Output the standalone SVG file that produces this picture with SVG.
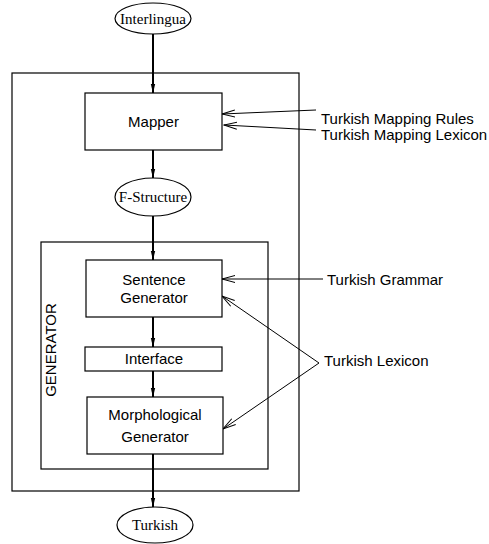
<svg xmlns="http://www.w3.org/2000/svg" width="489" height="544" viewBox="0 0 489 544">
<style>
.box{fill:#fff;stroke:#000;stroke-width:1.2}
.frame{fill:none;stroke:#000;stroke-width:1.2}
.sans{font-family:"Liberation Sans",Arial,sans-serif;font-size:15px;fill:#000}
.serif{font-family:"Liberation Serif","Times New Roman",serif;font-size:15px;fill:#000}
.main{stroke:#000;stroke-width:2;fill:none;marker-end:url(#fill)}
.side{stroke:#000;stroke-width:1;fill:none;marker-end:url(#open)}
</style>
<defs>
<marker id="fill" markerWidth="10" markerHeight="6" refX="9" refY="3" orient="auto" markerUnits="userSpaceOnUse">
<path d="M0,0.8 L9,3 L0,5.2 Z" fill="#000"/>
</marker>
<marker id="open" markerWidth="14" markerHeight="10" refX="13" refY="5" orient="auto" markerUnits="userSpaceOnUse">
<path d="M0,1.5 L13,5 L0,8.5" fill="none" stroke="#000" stroke-width="1"/>
</marker>
</defs>
<g id="frames">
<rect class="frame" x="12" y="73" width="287" height="418"/>
<rect class="frame" x="41" y="242" width="227" height="227"/>
<text class="sans" transform="translate(55.5,350) rotate(-90)" text-anchor="middle">GENERATOR</text>
</g>
<g id="connectors">
<line class="main" x1="153" y1="34" x2="153" y2="93"/>
<line class="main" x1="153" y1="150" x2="153" y2="178"/>
<line class="main" x1="153" y1="216" x2="153" y2="260"/>
<line class="main" x1="153" y1="317" x2="153" y2="347"/>
<line class="main" x1="153" y1="371" x2="153" y2="397"/>
<line class="main" x1="153" y1="454" x2="153" y2="507"/>
<line class="side" x1="316" y1="110" x2="222" y2="114"/>
<line class="side" x1="316" y1="130" x2="224" y2="125"/>
<line class="side" x1="323" y1="279" x2="222" y2="279"/>
<line class="side" x1="319" y1="363" x2="222" y2="296"/>
<line class="side" x1="319" y1="363" x2="223" y2="429"/>
</g>
<g id="interlingua">
<ellipse class="box" cx="153" cy="18.5" rx="38" ry="15.5"/>
<text class="serif" x="153" y="23.5" text-anchor="middle">Interlingua</text>
</g>
<g id="mapper">
<rect class="box" x="85" y="93" width="137" height="57"/>
<text class="sans" x="153.5" y="127" text-anchor="middle">Mapper</text>
</g>
<g id="fstructure">
<ellipse class="box" cx="153" cy="197" rx="38" ry="19"/>
<text class="serif" x="153" y="202" text-anchor="middle">F-Structure</text>
</g>
<g id="sentence-generator">
<rect class="box" x="86" y="260" width="136" height="57"/>
<text class="sans" x="154" y="284.5" text-anchor="middle">Sentence</text>
<text class="sans" x="154" y="302.5" text-anchor="middle">Generator</text>
</g>
<g id="interface">
<rect class="box" x="85" y="347" width="137" height="24"/>
<text class="sans" x="154" y="363.5" text-anchor="middle">Interface</text>
</g>
<g id="morphological-generator">
<rect class="box" x="87" y="397" width="136" height="57"/>
<text class="sans" x="155" y="419.5" text-anchor="middle">Morphological</text>
<text class="sans" x="155" y="441.5" text-anchor="middle">Generator</text>
</g>
<g id="turkish">
<ellipse class="box" cx="155" cy="525" rx="38" ry="18"/>
<text class="serif" x="155" y="530" text-anchor="middle">Turkish</text>
</g>
<g id="labels">
<text class="sans" x="321" y="123.5">Turkish Mapping Rules</text>
<text class="sans" x="321" y="139.5">Turkish Mapping Lexicon</text>
<text class="sans" x="327" y="284.5">Turkish Grammar</text>
<text class="sans" x="324" y="365.5">Turkish Lexicon</text>
</g>
</svg>
